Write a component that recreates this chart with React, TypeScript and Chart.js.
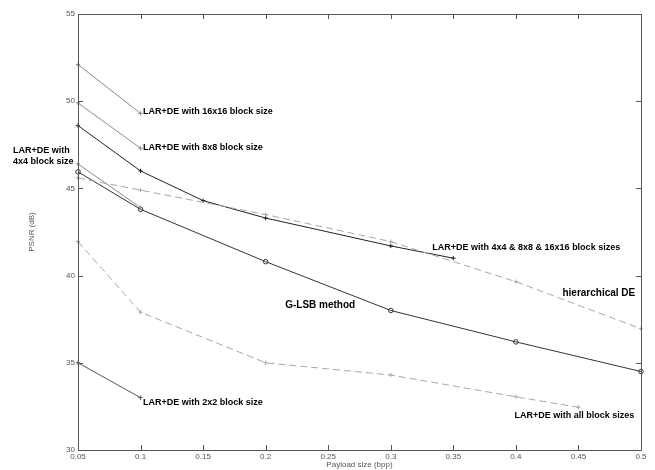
import React, { useEffect, useRef } from "react";
import { Chart, registerables } from "chart.js";

Chart.register(...registerables);

// ---- data ----
const x16 = [0.05, 0.1];
const y16 = [52.1, 49.3];
const x8 = [0.05, 0.1];
const y8 = [49.9, 47.3];
const x4 = [0.05, 0.1];
const y4 = [46.4, 43.9];
const xCombined = [0.05, 0.1, 0.15, 0.2, 0.3, 0.35];
const yCombined = [48.6, 46.0, 44.3, 43.3, 41.7, 41.0];
const xHier = [0.05, 0.1, 0.2, 0.3, 0.4, 0.5];
const yHier = [45.6, 44.9, 43.5, 41.95, 39.65, 36.95];
const xGlsb = [0.05, 0.1, 0.2, 0.3, 0.4, 0.5];
const yGlsb = [45.95, 43.8, 40.8, 38.0, 36.2, 34.5];
const xAll = [0.05, 0.1, 0.2, 0.3, 0.4, 0.45];
const yAll = [41.95, 37.9, 35.0, 34.3, 33.05, 32.45];
const x2 = [0.05, 0.1];
const y2 = [35.0, 33.0];

const xTickValues = [0.05, 0.1, 0.15, 0.2, 0.25, 0.3, 0.35, 0.4, 0.45, 0.5];
const yTickValues = [30, 35, 40, 45, 50, 55];

// annotation labels anchored in data coordinates
const labelTexts = [
  "LAR+DE with 16x16 block size",
  "LAR+DE with 8x8 block size",
  "LAR+DE with",
  "4x4 block size",
  "LAR+DE with 4x4 & 8x8 & 16x16 block sizes",
  "hierarchical DE",
  "G-LSB method",
  "LAR+DE with 2x2 block size",
  "LAR+DE with all block sizes",
];
const labelX = [0.102, 0.102, -0.002, -0.002, 0.3332, 0.4372, 0.2156, 0.102, 0.3988];
const labelY = [49.38, 47.32, 47.16, 46.57, 41.6, 39.0, 38.31, 32.7, 31.95];

const FONT = "'Liberation Sans', Arial, Helvetica, sans-serif";

function pts(xs: number[], ys: number[]) {
  return xs.map((x, i) => ({ x, y: ys[i] }));
}

const framePlugin = {
  id: "frame",
  afterDraw(chart: any) {
    const { ctx, chartArea, scales } = chart;
    const { left, right, top, bottom } = chartArea;
    const xs = scales.x;
    const ys = scales.y;
    ctx.save();
    ctx.strokeStyle = "#555";
    ctx.lineWidth = 1;
    ctx.beginPath();
    ctx.rect(Math.round(left) + 0.5, Math.round(top) + 0.5, Math.round(right - left), Math.round(bottom - top));
    ctx.stroke();
    const tl = 5;
    ctx.beginPath();
    xTickValues.forEach((v) => {
      const px = Math.round(xs.getPixelForValue(v)) + 0.5;
      ctx.moveTo(px, bottom);
      ctx.lineTo(px, bottom - tl);
      ctx.moveTo(px, top);
      ctx.lineTo(px, top + tl);
    });
    yTickValues.forEach((v) => {
      const py = Math.round(ys.getPixelForValue(v)) + 0.5;
      ctx.moveTo(left, py);
      ctx.lineTo(left + tl, py);
      ctx.moveTo(right, py);
      ctx.lineTo(right - tl, py);
    });
    ctx.stroke();

    ctx.fillStyle = "#000";
    ctx.textBaseline = "middle";
    ctx.textAlign = "left";
    labelTexts.forEach((t, i) => {
      const px = xs.getPixelForValue(labelX[i]);
      const py = ys.getPixelForValue(labelY[i]);
      const big = t === "hierarchical DE" || t === "G-LSB method";
      ctx.font = `bold ${big ? 10 : 9}px ${FONT}`;
      ctx.fillText(t, px, py);
    });
    ctx.restore();
  },
};

export default function App() {
  const ref = useRef<HTMLCanvasElement | null>(null);
  useEffect(() => {
    if (!ref.current) return;
    const solidGray = "#8a8a8a";
    const dark = "#222";
    const dashGray = "#a8a8a8";
    const cross = { pointStyle: "cross", pointRadius: 2.2, borderWidth: 1, pointBorderWidth: 1, clip: 6 };
    const chart = new Chart(ref.current, {
      type: "line",
      data: {
        datasets: [
          { data: pts(x16, y16), borderColor: solidGray, pointBorderColor: solidGray, ...cross },
          { data: pts(x8, y8), borderColor: solidGray, pointBorderColor: solidGray, ...cross },
          { data: pts(x4, y4), borderColor: solidGray, pointBorderColor: solidGray, ...cross },
          { data: pts(xHier, yHier), borderColor: dashGray, borderDash: [7, 4], pointBorderColor: dashGray, ...cross },
          { data: pts(xCombined, yCombined), borderColor: dark, pointBorderColor: dark, ...cross },
          { data: pts(xGlsb, yGlsb), borderColor: "#333", pointStyle: "circle", pointRadius: 2.3, pointBorderColor: "#333", pointBackgroundColor: "rgba(0,0,0,0)", borderWidth: 1, pointBorderWidth: 1, clip: 6 },
          { data: pts(xAll, yAll), borderColor: dashGray, borderDash: [7, 4], pointBorderColor: dashGray, ...cross },
          { data: pts(x2, y2), borderColor: "#555", pointBorderColor: "#555", ...cross },
        ],
      },
      options: {
        animation: false,
        responsive: false,
        devicePixelRatio: 1,
        layout: { padding: { left: 22, right: 14, top: 14, bottom: 0 } },
        plugins: { legend: { display: false }, tooltip: { enabled: false } },
        elements: { line: { tension: 0 } },
        scales: {
          x: {
            type: "linear",
            min: 0.05,
            max: 0.5,
            grid: { display: false, drawTicks: false },
            border: { display: false },
            afterBuildTicks: (s: any) => { s.ticks = xTickValues.map((v) => ({ value: v })); },
            afterFit: (s: any) => { s.height = 20; },
            ticks: {
              padding: 2,
              color: "#555",
              font: { family: FONT, size: 8 },
              maxRotation: 0,
              callback: (v: any) => String(Math.round(Number(v) * 100) / 100),
            },
            title: { display: true, text: "Payload size (bpp)", color: "#555", font: { family: FONT, size: 8 }, padding: { top: 0, bottom: 0 } },
          },
          y: {
            type: "linear",
            min: 30,
            max: 55,
            grid: { display: false, drawTicks: false },
            border: { display: false },
            afterBuildTicks: (s: any) => { s.ticks = yTickValues.map((v) => ({ value: v })); },
            afterFit: (s: any) => { s.width = 56; },
            ticks: { padding: 3, color: "#555", font: { family: FONT, size: 8 } },
            title: { display: true, text: "PSNR (dB)", color: "#555", font: { family: FONT, size: 8 }, padding: { top: 5, bottom: 0 } },
          },
        },
      },
      plugins: [framePlugin],
    } as any);
    return () => chart.destroy();
  }, []);
  return (
    <div style={{ position: "fixed", left: 0, top: 0, width: 655, height: 470, background: "#fff" }}>
      <canvas ref={ref} width={655} height={470} style={{ width: 655, height: 470, display: "block" }} />
    </div>
  );
}
